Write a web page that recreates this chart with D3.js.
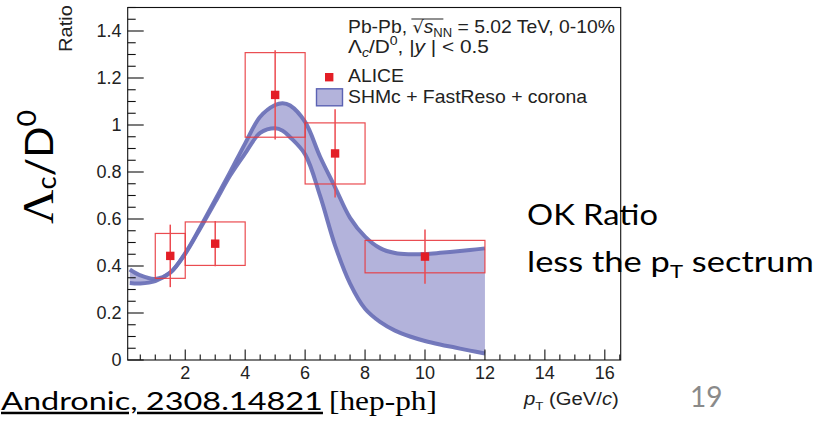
<!DOCTYPE html>
<html><head><meta charset="utf-8">
<script src="https://cdn.jsdelivr.net/npm/d3@7"></script>
<style>
html,body{margin:0;padding:0;background:#fff;}
svg{display:block;}
</style></head>
<body>
<svg id="chart" width="821" height="422"></svg>
<script>
// ---- data ----
const modelPt    = [0.15,0.5,1,1.5,2,2.5,3,3.5,4,4.5,5,5.25,5.5,6,6.5,7,7.5,8,8.5,9,9.5,10,10.5,11,11.5,12];
const modelUpper = [0.385,0.360,0.345,0.372,0.455,0.565,0.682,0.800,0.922,1.035,1.085,1.093,1.083,1.013,0.865,0.735,0.605,0.525,0.476,0.455,0.450,0.451,0.456,0.462,0.468,0.475];
const modelLower = [0.328,0.326,0.336,0.372,0.452,0.560,0.672,0.785,0.879,0.966,0.986,0.976,0.948,0.875,0.698,0.487,0.325,0.218,0.162,0.125,0.100,0.081,0.066,0.053,0.040,0.028];

const alicePt    = [1.5, 3, 5, 7, 10];
const aliceRatio = [0.443, 0.495, 1.128, 0.879, 0.440];
const aliceStat  = [0.133, 0.096, 0.19, 0.188, 0.115];
const aliceSyst  = [0.0955, 0.0925, 0.18, 0.13, 0.069];
const binLow     = [1, 2, 4, 6, 8];
const binHigh    = [2, 4, 6, 8, 12];

const xTicks = [2,4,6,8,10,12,14,16];
const yTicks = [0,0.2,0.4,0.6,0.8,1,1.2,1.4];
const yTickLabels = ["0","0.2","0.4","0.6","0.8","1","1.2","1.4"];

// ---- layout ----
const svg = d3.select("#chart");
const X0 = 127.7, X1 = 620.7, Y0 = 360, Y1 = 7.5;
const x = d3.scaleLinear().domain([0.08, 16.53]).range([X0, X1]);
const y = d3.scaleLinear().domain([0, 1.5]).range([Y0, Y1]);

const RED = "#e31e26";
const BANDFILL = "#b3b3db";
const BANDLINE = "#6d72b8";
const ROOTFONT = "'Liberation Sans', Arial, sans-serif";
const SLIDE = "Lato, 'Open Sans', sans-serif";

// place a text (drawn at origin, anchor start) so that it spans `width` px along its direction
function fit(t, tx, ty, width, rot) {
  const w = t.node().getBBox().width;
  const s = width / w;
  t.attr("transform", `translate(${tx},${ty})` + (rot ? ` rotate(${rot})` : "") + ` scale(${s},1)`);
  return t;
}

// band
const band = modelPt.map((p,i)=>({p, u:modelUpper[i], l:modelLower[i]}));
const curve = d3.curveCatmullRom.alpha(0.5);
svg.append("path")
  .attr("d", d3.area().x(d=>x(d.p)).y0(d=>y(d.l)).y1(d=>y(d.u)).curve(curve)(band))
  .attr("fill", BANDFILL);
const blur = svg.append("defs").append("filter").attr("id","soft");
blur.append("feGaussianBlur").attr("stdDeviation",0.6);
["u","l"].forEach(k=>{
  svg.append("path")
    .attr("d", d3.line().x(d=>x(d.p)).y(d=>y(d[k])).curve(curve)(band))
    .attr("fill","none").attr("stroke",BANDLINE).attr("stroke-width",4)
    .attr("stroke-opacity",0.95).attr("filter","url(#soft)");
});

// ALICE syst boxes, stat bars, markers
const pts = alicePt.map((p,i)=>({p, r:aliceRatio[i], st:aliceStat[i], sy:aliceSyst[i], lo:binLow[i], hi:binHigh[i]}));
svg.append("g").selectAll("rect").data(pts).join("rect")
  .attr("x", d=>x(d.lo)).attr("width", d=>x(d.hi)-x(d.lo))
  .attr("y", d=>y(d.r+d.sy)).attr("height", d=>y(d.r-d.sy)-y(d.r+d.sy))
  .attr("fill","none").attr("stroke", "#e8373d").attr("stroke-width",1.2).attr("stroke-opacity",0.9);
svg.append("g").selectAll("line").data(pts).join("line")
  .attr("x1", d=>x(d.p)).attr("x2", d=>x(d.p))
  .attr("y1", d=>y(d.r+d.st)).attr("y2", d=>y(d.r-d.st))
  .attr("stroke","#ec4a50").attr("stroke-width",1.5);
svg.append("g").selectAll("rect").data(pts).join("rect")
  .attr("x", d=>x(d.p)-4.2).attr("y", d=>y(d.r)-4.2)
  .attr("width",8.4).attr("height",8.4).attr("fill",RED);

// frame
svg.append("rect").attr("x",X0).attr("y",Y1).attr("width",X1-X0).attr("height",Y0-Y1)
  .attr("stroke","#111").attr("stroke-width",1.1).attr("fill","none");

// y ticks
const yMinor = d3.range(0, 1.5001, 0.05);
svg.append("g").selectAll("line").data(yMinor).join("line")
  .attr("x1",X0).attr("x2", d=> (Math.abs(d*5-Math.round(d*5))<1e-6) ? X0+16 : X0+8)
  .attr("y1",d=>y(d)).attr("y2",d=>y(d)).attr("stroke","#111").attr("stroke-width",1.1);
svg.append("g").selectAll("text").data(yTicks).join("text")
  .attr("x",121.5).attr("y",d=>y(d)+6.3).attr("text-anchor","end")
  .attr("font-family",ROOTFONT).attr("font-size",18).attr("fill","#222")
  .text((d,i)=>yTickLabels[i]);

// x ticks
const xMinor = d3.range(0.5, 16.51, 0.5);
svg.append("g").selectAll("line").data(xMinor).join("line")
  .attr("x1",d=>x(d)).attr("x2",d=>x(d))
  .attr("y1",Y0).attr("y2", d=> (d%2===0) ? Y0-10.5 : Y0-5.5)
  .attr("stroke","#111").attr("stroke-width",1.1);
svg.append("g").selectAll("text").data(xTicks).join("text")
  .attr("x",d=>x(d)).attr("y",378.5).attr("text-anchor","middle")
  .attr("font-family",ROOTFONT).attr("font-size",18).attr("fill","#222")
  .text(d=>d);

// axis titles
const yt = svg.append("text").attr("font-family",ROOTFONT).attr("font-size",18.5).attr("fill","#222")
  .text("Ratio");
fit(yt, 72, 52, 47, -90);
const xt = svg.append("text").attr("font-family",ROOTFONT).attr("font-size",17.5).attr("fill","#222");
xt.append("tspan").attr("font-style","italic").text("p");
xt.append("tspan").attr("font-size",11.5).attr("dy",5).text("T");
xt.append("tspan").attr("dy",-5).text(" (GeV/");
xt.append("tspan").attr("font-style","italic").text("c");
xt.append("tspan").text(")");
fit(xt, 524, 405, 96);

// legend text
const lg = svg.append("g").attr("font-family",ROOTFONT).attr("font-size",18.5).attr("fill","#222");
const l1 = lg.append("text");
l1.append("tspan").text("Pb-Pb, ");
l1.append("tspan").attr("font-family","'DejaVu Sans'").attr("font-size",17).text("√");
l1.append("tspan").attr("font-style","italic").text("s");
l1.append("tspan").attr("font-size",12.5).attr("dy",4).text("NN");
l1.append("tspan").attr("dy",-4).text(" = 5.02 TeV, 0-10%");
{
  const node = l1.node();
  const nn = node.getExtentOfChar(9); // last N
  const sq = node.getExtentOfChar(6); // sqrt sign
  l1.append("tspan").attr("x", 0).text(""); // no-op keeps structure
  const ov = lg.append("line").attr("x1", sq.x+sq.width-1).attr("x2", nn.x+nn.width+0.5)
    .attr("y1", -14.3).attr("y2", -14.3).attr("stroke","#222").attr("stroke-width",1.1);
  const w = node.getBBox().width, s = 267 / w;
  l1.attr("transform", `translate(348,33.3) scale(${s},1)`);
  ov.attr("transform", `translate(348,33.3) scale(${s},1)`);
}
const l2 = lg.append("text");
l2.append("tspan").text("Λ");
l2.append("tspan").attr("font-style","italic").attr("font-size",12.5).attr("dy",4).text("c");
l2.append("tspan").attr("dy",-4).text("/D");
l2.append("tspan").attr("font-size",12.5).attr("dy",-8).text("0");
l2.append("tspan").attr("dy",8).text(", |");
l2.append("tspan").attr("font-style","italic").text("y");
l2.append("tspan").text(" | < 0.5");
fit(l2, 348, 52.7, 141);
fit(lg.append("text").text("ALICE"), 348, 81.7, 56);
fit(lg.append("text").text("SHMc + FastReso + corona"), 348, 102.7, 240);
svg.append("rect").attr("x",325).attr("y",73).attr("width",8.4).attr("height",8.4).attr("fill",RED);
svg.append("rect").attr("x",316.5).attr("y",88.8).attr("width",26).attr("height",17)
  .attr("fill",BANDFILL).attr("stroke","#5b62b3").attr("stroke-width",1.4);

// big y label
const big = svg.append("text").attr("font-family",SLIDE).attr("font-size",39).attr("fill","#000");
big.append("tspan").attr("font-family","'Liberation Serif', serif").attr("font-size",45).text("Λ");
big.append("tspan").attr("font-size",26).attr("dy",3).text("c");
big.append("tspan").attr("dy",-3).text("/D");
big.append("tspan").attr("font-size",27).attr("dy",-17).text("0");
fit(big, 53, 224, 114, -90);

// slide notes
const note = svg.append("g").attr("font-family",SLIDE).attr("font-size",28).attr("fill","#000");
fit(note.append("text").text("OK Ratio"), 527, 225, 131);
const n2 = note.append("text");
n2.append("tspan").text("less the p");
n2.append("tspan").attr("font-size",18).attr("dy",6).text("T");
n2.append("tspan").attr("dy",-6).text(" sectrum");
fit(n2, 527, 272, 287);

svg.append("text").attr("x",690).attr("y",407).attr("font-family",SLIDE).attr("font-size",28)
  .attr("fill","#8a8a8a").text("19");

const c1 = svg.append("text").attr("font-family",SLIDE).attr("font-size",25).attr("fill","#000")
  .attr("text-decoration","underline").text("Andronic, 2308.14821 ");
fit(c1, 1, 410, 322);
const c2 = svg.append("text").attr("font-family","'Liberation Serif', serif").attr("font-size",27).attr("fill","#000")
  .text("[hep-ph]");
fit(c2, 329, 410, 108);
</script>
</body></html>
